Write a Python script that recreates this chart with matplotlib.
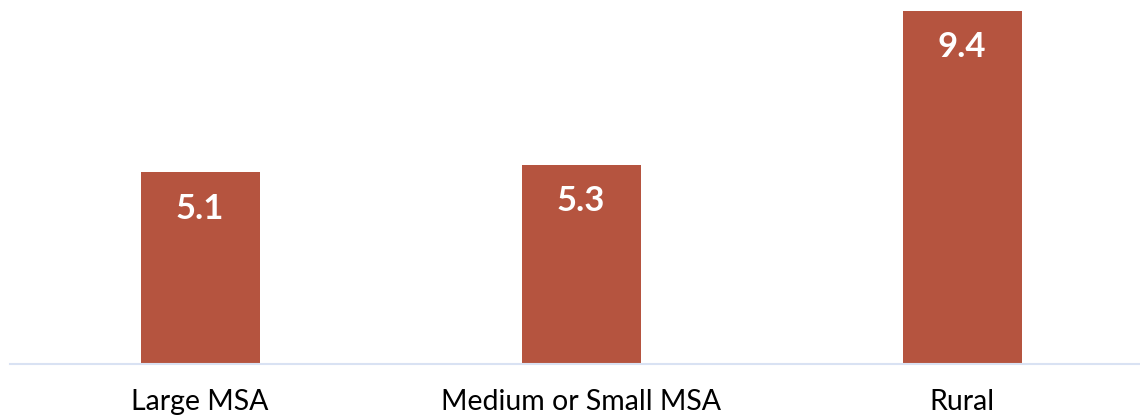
import matplotlib
matplotlib.use("Agg")
import matplotlib.pyplot as plt

categories = ["Large MSA", "Medium or Small MSA", "Rural"]
values = [5.1, 5.3, 9.4]
labels = ["5.1", "5.3", "9.4"]

plt.rcParams['font.family'] = ['Lato', 'DejaVu Sans']

fig = plt.figure(figsize=(11.4, 4.2), dpi=100)
ax = fig.add_axes([10/1140, 56/420, 1 - 10/1140, 1 - 56/420])

x = list(range(len(categories)))
bars = ax.bar(x, values, width=119/381, color="#B5543F")
ax.set_xlim(-190/381, 2 + 178/381)
ax.set_ylim(0, 364/37.55)

for xi, v, lab in zip(x, values, labels):
    ax.text(xi, v - 0.97, lab, ha="center", va="center", color="white",
            fontsize=25, fontweight="bold")

ax.set_xticks(x)
ax.set_xticklabels(categories, fontsize=20.5)
ax.tick_params(axis="x", length=0, pad=18)
ax.set_yticks([])
for s in ["top", "left", "right"]:
    ax.spines[s].set_visible(False)
ax.spines["bottom"].set_color("#D9E2F3")
ax.spines["bottom"].set_linewidth(1.5)

fig.savefig("out.png", dpi=100)
